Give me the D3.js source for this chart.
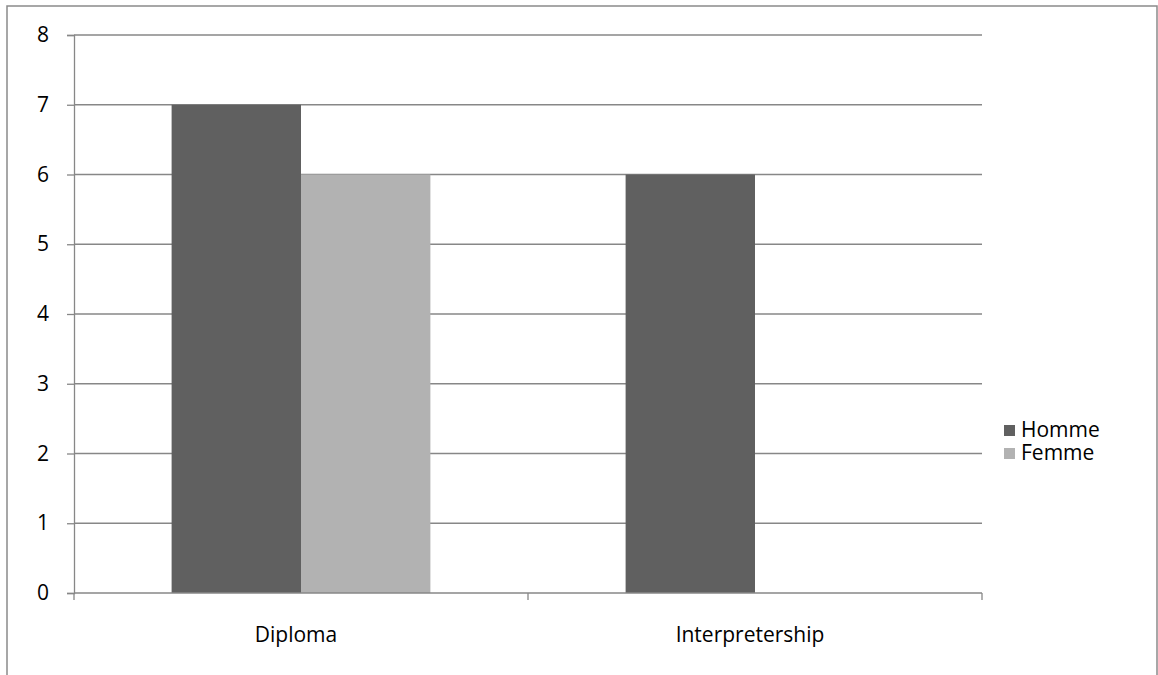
<!DOCTYPE html>
<html>
<head>
<meta charset="utf-8">
<script src="https://cdn.jsdelivr.net/npm/d3@7"></script>
<style>
  html, body { margin: 0; padding: 0; background: #fff; }
  svg { display: block; }
  text { font-family: "Open Sans", "Noto Sans", sans-serif; fill: #000; }
</style>
</head>
<body>
<svg id="chart" width="1158" height="675"></svg>
<script>
// Data
const categories = ["Diploma", "Interpretership"];
const seriesNames = ["Homme", "Femme"];
const homme = [7, 6];
const femme = [6, 0];
const yTicks = [0, 1, 2, 3, 4, 5, 6, 7, 8];
const colors = ["#606060", "#b2b2b2"];

const svg = d3.select("#chart");

// outer chart frame
svg.append("rect")
  .attr("x", 7).attr("y", 6)
  .attr("width", 1150).attr("height", 700)
  .attr("fill", "#fff")
  .attr("stroke", "#8a8a8a")
  .attr("stroke-width", 1.5);

const plot = { left: 74, right: 982, top: 35, bottom: 593 };

const x0 = d3.scaleBand()
  .domain(categories)
  .range([plot.left, plot.right])
  .paddingInner(0.43)
  .paddingOuter(0.215);

const x1 = d3.scaleBand()
  .domain(seriesNames)
  .range([0, x0.bandwidth()]);

const y = d3.scaleLinear().domain([0, 8]).range([plot.bottom, plot.top]);

const gridColor = "#878787";

// horizontal gridlines
svg.append("g")
  .selectAll("line")
  .data(yTicks.filter(d => d > 0))
  .join("line")
  .attr("x1", plot.left).attr("x2", plot.right)
  .attr("y1", d => y(d)).attr("y2", d => y(d))
  .attr("stroke", gridColor).attr("stroke-width", 1.3);

// bars
const rows = categories.map((c, i) => ({ cat: c, values: [homme[i], femme[i]] }));
svg.append("g")
  .selectAll("g")
  .data(rows)
  .join("g")
  .attr("transform", d => `translate(${x0(d.cat)},0)`)
  .selectAll("rect")
  .data(d => d.values.map((v, j) => ({ name: seriesNames[j], value: v, color: colors[j] })))
  .join("rect")
  .attr("x", d => x1(d.name))
  .attr("y", d => y(d.value))
  .attr("width", x1.bandwidth())
  .attr("height", d => y(0) - y(d.value))
  .attr("fill", d => d.color);

// y axis
const yAxis = d3.axisLeft(y).tickValues(yTicks).tickSize(7).tickPadding(18).tickFormat(d3.format("d"));
const gy = svg.append("g").attr("transform", `translate(${plot.left},0)`).call(yAxis);
gy.select(".domain").attr("stroke", gridColor).attr("stroke-width", 1.3);
gy.selectAll(".tick line").attr("stroke", gridColor).attr("stroke-width", 1.3);
gy.selectAll(".tick text").style("font-size", "21px").attr("fill", "#000");

// x axis line with category boundary ticks
svg.append("line")
  .attr("x1", plot.left).attr("x2", plot.right)
  .attr("y1", plot.bottom).attr("y2", plot.bottom)
  .attr("stroke", gridColor).attr("stroke-width", 1.3);

const bounds = [plot.left, (plot.left + plot.right) / 2, plot.right];
svg.append("g")
  .selectAll("line")
  .data(bounds)
  .join("line")
  .attr("x1", d => d).attr("x2", d => d)
  .attr("y1", plot.bottom).attr("y2", plot.bottom + 7)
  .attr("stroke", gridColor).attr("stroke-width", 1.3);

// category labels
svg.append("g")
  .selectAll("text")
  .data(categories)
  .join("text")
  .attr("x", d => x0(d) + x0.bandwidth() / 2 - 5)
  .attr("y", 642)
  .attr("text-anchor", "middle")
  .style("font-size", "21px")
  .text(d => d);

// legend
const legend = svg.append("g").attr("transform", "translate(1004,430)");
const li = legend.selectAll("g")
  .data(seriesNames)
  .join("g")
  .attr("transform", (d, i) => `translate(0,${i * 23})`);
li.append("rect")
  .attr("x", 0).attr("y", -5)
  .attr("width", 11).attr("height", 11)
  .attr("fill", (d, i) => colors[i]);
li.append("text")
  .attr("x", 17).attr("y", 0)
  .attr("dy", "0.35em")
  .style("font-size", "21px")
  .text(d => d);
</script>
</body>
</html>
